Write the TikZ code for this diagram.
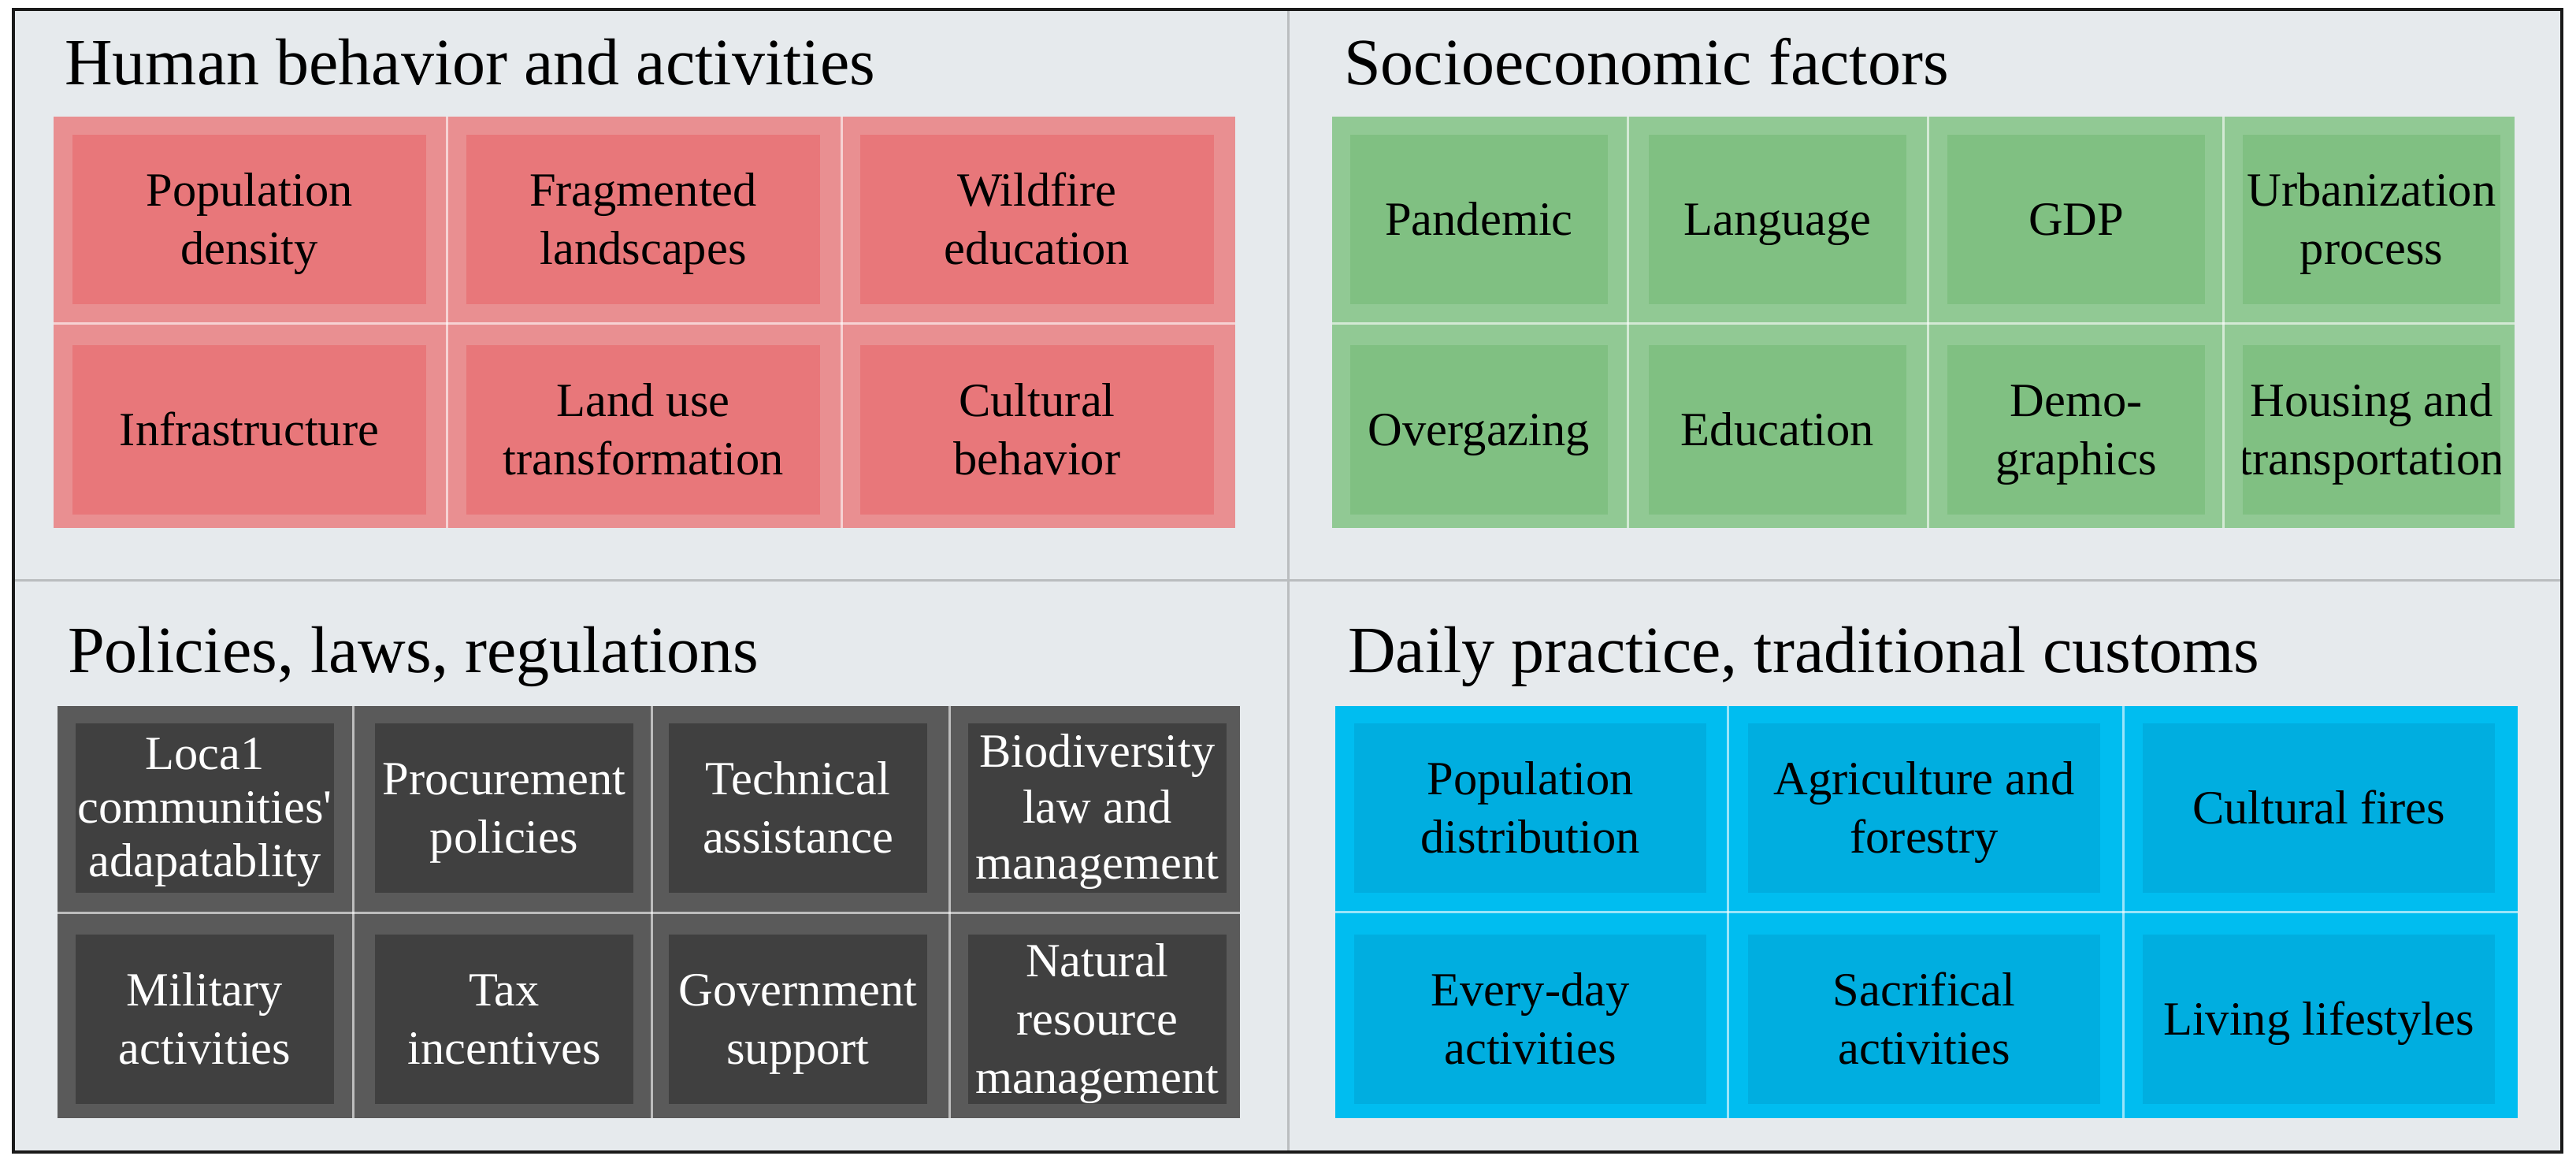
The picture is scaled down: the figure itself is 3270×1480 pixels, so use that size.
\documentclass[tikz,border=0pt]{standalone}
\usepackage{fontspec}
\setmainfont{Liberation Serif}
\definecolor{bgc}{HTML}{E6EAED}
\definecolor{framec}{HTML}{1A1A1A}
\definecolor{divc}{HTML}{BABDBF}
\definecolor{redout}{HTML}{E98F91}
\definecolor{redin}{HTML}{E8777A}
\definecolor{grnout}{HTML}{91C994}
\definecolor{grnin}{HTML}{80C082}
\definecolor{gryout}{HTML}{5A5A5A}
\definecolor{gryin}{HTML}{404040}
\definecolor{bluout}{HTML}{00BDF0}
\definecolor{bluin}{HTML}{00AEE0}
\newcommand\cellfont{\fontsize{60.5}{74}\selectfont}
\newcommand\cellfonttight{\fontsize{60.5}{68}\selectfont}
\newcommand\titlefont{\fontsize{84}{100}\selectfont}
% name, left, top, width, fill, text options, text
\newcommand\qcell[7]{%
  \node[cellbox, fill=#5, minimum width=#4pt,
    path picture={\node[celltext, #6] at (path picture bounding box.center) {\strut #7\strut};}]
    (#1) at (#2,#3) {};}
\begin{document}
\begin{tikzpicture}[x=1pt,y=-1pt,
  cellbox/.style={inner sep=0pt, outer sep=0pt, draw=none, minimum height=215pt, anchor=north west},
  celltext/.style={inner sep=0pt, anchor=center, align=center, font=\cellfont, yshift=-5pt},
  qtitle/.style={inner sep=0pt, anchor=base west, font=\titlefont, text=black},
  bdiv/.style={draw=white, draw opacity=0.6, line width=3pt},
  qdiv/.style={draw=divc, line width=3pt}]
\useasboundingbox (0,0) rectangle (3270,1480);
\fill[white] (0,0) rectangle (3270,1480);
\fill[bgc] (17,12) rectangle (3252,1462);
\draw[qdiv] (1635,12) -- (1635,1462);
\draw[qdiv] (17,736) -- (3252,736);
\draw[framec, line width=4pt] (17,12) rectangle (3252,1462);

% titles
\node[qtitle] (t1) at (82,107) {Human behavior and activities};
\node[qtitle] (t2) at (1706,107) {Socioeconomic factors};
\node[qtitle] (t3) at (86,853) {Policies, laws, regulations};
\node[qtitle] (t4) at (1711,853) {Daily practice, traditional customs};

% ---- red block
\fill[redout] (68,148) rectangle (1568,670);
\draw[bdiv] (567,148) -- (567,670);
\draw[bdiv] (1068,148) -- (1068,670);
\draw[bdiv] (68,410) -- (1568,410);
\qcell{r1}{92}{171}{449}{redin}{text=black}{Population\\density}
\qcell{r2}{592}{171}{449}{redin}{text=black}{Fragmented\\landscapes}
\qcell{r3}{1092}{171}{449}{redin}{text=black}{Wildfire\\education}
\qcell{r4}{92}{438}{449}{redin}{text=black}{Infrastructure}
\qcell{r5}{592}{438}{449}{redin}{text=black}{Land use\\transformation}
\qcell{r6}{1092}{438}{449}{redin}{text=black}{Cultural\\behavior}

% ---- green block
\fill[grnout] (1691,148) rectangle (3192,670);
\draw[bdiv] (2066,148) -- (2066,670);
\draw[bdiv] (2447,148) -- (2447,670);
\draw[bdiv] (2822,148) -- (2822,670);
\draw[bdiv] (1691,410) -- (3192,410);
\qcell{g1}{1714}{171}{327}{grnin}{text=black}{Pandemic}
\qcell{g2}{2093}{171}{327}{grnin}{text=black}{Language}
\qcell{g3}{2472}{171}{327}{grnin}{text=black}{GDP}
\qcell{g4}{2847}{171}{327}{grnin}{text=black}{Urbanization\\process}
\qcell{g5}{1714}{438}{327}{grnin}{text=black}{Overgazing}
\qcell{g6}{2093}{438}{327}{grnin}{text=black}{Education}
\qcell{g7}{2472}{438}{327}{grnin}{text=black}{Demo-\\graphics}
\qcell{g8}{2847}{438}{327}{grnin}{text=black}{Housing and\\transportation}

% ---- gray block
\fill[gryout] (73,896) rectangle (1574,1419);
\draw[bdiv] (448,896) -- (448,1419);
\draw[bdiv] (827,896) -- (827,1419);
\draw[bdiv] (1205,896) -- (1205,1419);
\draw[bdiv] (73,1158) -- (1574,1158);
\qcell{k1}{96}{918}{328}{gryin}{text=white, font=\cellfonttight}{Loca1\\communities\textquotesingle\\adapatablity}
\qcell{k2}{476}{918}{328}{gryin}{text=white}{Procurement\\policies}
\qcell{k3}{849}{918}{328}{gryin}{text=white}{Technical\\assistance}
\qcell{k4}{1229}{918}{328}{gryin}{text=white, font=\fontsize{60.5}{71}\selectfont}{Biodiversity\\law and\\management}
\qcell{k5}{96}{1186}{328}{gryin}{text=white}{Military\\activities}
\qcell{k6}{476}{1186}{328}{gryin}{text=white}{Tax\\incentives}
\qcell{k7}{849}{1186}{328}{gryin}{text=white}{Government\\support}
\qcell{k8}{1229}{1186}{328}{gryin}{text=white}{Natural\\resource\\management}

% ---- blue block
\fill[bluout] (1695,896) rectangle (3196,1419);
\draw[bdiv] (2193,896) -- (2193,1419);
\draw[bdiv] (2695,896) -- (2695,1419);
\draw[bdiv] (1695,1157) -- (3196,1157);
\qcell{b1}{1719}{918}{447}{bluin}{text=black}{Population\\distribution}
\qcell{b2}{2219}{918}{447}{bluin}{text=black}{Agriculture and\\forestry}
\qcell{b3}{2720}{918}{447}{bluin}{text=black}{Cultural fires}
\qcell{b4}{1719}{1186}{447}{bluin}{text=black}{Every-day\\activities}
\qcell{b5}{2219}{1186}{447}{bluin}{text=black}{Sacrifical\\activities}
\qcell{b6}{2720}{1186}{447}{bluin}{text=black}{Living lifestyles}
\end{tikzpicture}
\end{document}
